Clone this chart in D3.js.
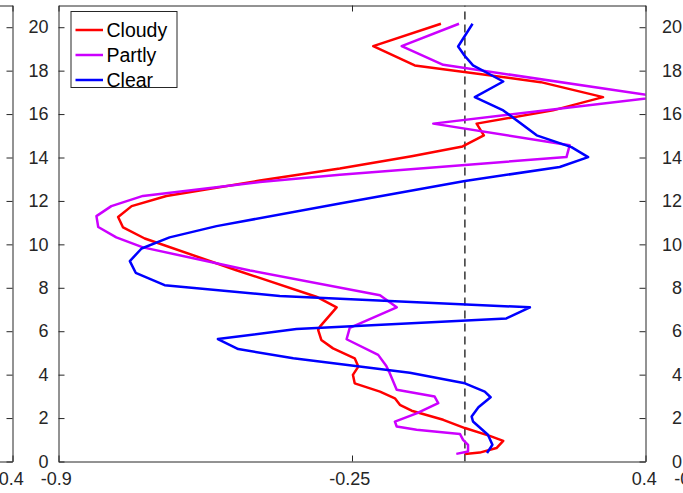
<!DOCTYPE html>
<html><head><meta charset="utf-8">
<script src="https://cdn.jsdelivr.net/npm/d3@7"></script>
<style>html,body{margin:0;padding:0;background:#fff;overflow:hidden}</style>
</head><body><svg id="c" width="683" height="493"></svg>
<script>
// ---- data ----
const xTicks = [-0.9, -0.25, 0.4];
const xTickLabels = ["-0.9", "-0.25", "0.4"];
const yTicks = [0, 2, 4, 6, 8, 10, 12, 14, 16, 18, 20];
const yTickLabels = ["0","2","4","6","8","10","12","14","16","18","20"];
const seriesNames = ["Cloudy", "Partly", "Clear"];
const seriesColors = ["#ff0000", "#cc00ff", "#0000ff"];
const refValue = 0;

const cloudyDepth = [20.16,19.13,18.24,17.47,16.78,16.17,15.56,15.02,14.51,14.06,13.49,12.94,12.23,11.76,11.26,10.78,10.27,8.81,7.59,7.10,6.21,6.06,5.60,5.21,4.75,4.37,3.99,3.60,3.22,2.91,2.61,2.34,1.92,1.54,1.18,0.95,0.62,0.41,0.35];
const cloudyValue = [-0.053,-0.203,-0.111,0.168,0.306,0.195,0.026,0.042,-0.005,-0.118,-0.277,-0.454,-0.661,-0.738,-0.768,-0.757,-0.709,-0.506,-0.329,-0.284,-0.321,-0.325,-0.318,-0.292,-0.244,-0.236,-0.248,-0.244,-0.188,-0.155,-0.144,-0.118,-0.048,0.000,0.055,0.085,0.070,0.033,0.000];

const partlyDepth = [20.16,19.13,18.27,16.79,15.56,14.56,14.02,13.21,12.87,12.23,11.76,11.30,10.80,10.32,9.86,8.80,7.66,7.10,6.15,5.63,4.91,4.40,4.14,3.30,2.99,2.69,2.22,1.84,1.61,1.46,1.27,1.00,0.77,0.46,0.35];
const partlyValue = [-0.013,-0.140,-0.048,0.432,-0.070,0.232,0.225,-0.277,-0.454,-0.713,-0.783,-0.816,-0.812,-0.772,-0.713,-0.476,-0.188,-0.151,-0.255,-0.262,-0.192,-0.174,-0.168,-0.151,-0.067,-0.059,-0.107,-0.155,-0.151,-0.107,-0.011,-0.004,0.007,0.007,-0.019];

const clearDepth = [20.16,19.11,18.70,18.24,17.50,16.78,16.17,15.02,14.48,14.02,13.56,12.92,11.88,10.84,10.32,9.81,9.23,8.69,8.12,7.62,7.10,6.59,6.10,5.64,5.18,4.75,4.09,3.60,3.22,2.96,2.50,2.07,1.84,1.23,0.77,0.39];
const clearValue = [0.017,-0.015,-0.001,0.018,0.085,0.022,0.085,0.159,0.236,0.273,0.210,0.000,-0.277,-0.550,-0.654,-0.716,-0.742,-0.729,-0.665,-0.410,0.144,0.092,-0.373,-0.547,-0.502,-0.380,-0.122,0.000,0.044,0.057,0.030,0.015,0.018,0.051,0.061,0.049];

// ---- layout ----
const FONT = '"Liberation Sans", Arial, Helvetica, sans-serif';
const AX = "#262626";
const SW = 683;
const W = 587;
const panelLeft = [12.5 - W, 58.5, 692];   // neighbouring subplots are cropped by the frame
const mainPanel = 1;

const svg = d3.select("#c");
const x = d3.scaleLinear().domain([-0.9, 0.4]).range([0, W]);
const y = d3.scaleLinear().domain([0, 21]).range([461.5, 5.5]);

function styleAxis(g) {
  g.selectAll("path.domain").attr("stroke", AX).attr("stroke-width", 1);
  g.selectAll(".tick line").attr("stroke", AX).attr("stroke-width", 1);
  g.selectAll(".tick text").attr("fill", AX).attr("font-family", FONT).attr("font-size", 18);
}
// drop labels of the neighbouring panels that lie completely outside the frame
function dropHidden(g, x0, posFn) {
  g.selectAll(".tick").each(function (d) {
    const ax = x0 + posFn(d);
    if (ax < -22 || ax > SW + 22) d3.select(this).select("text").remove();
  });
}

panelLeft.forEach((x0, i) => {
  const g = svg.append("g").attr("transform", `translate(${x0},0)`);
  g.append("rect").attr("x", 0).attr("y", y(21)).attr("width", W).attr("height", y(0) - y(21)).attr("fill", "#fff");
  if (i === mainPanel) {
    g.append("clipPath").attr("id", "clip").append("rect")
      .attr("x", 0).attr("y", y(21)).attr("width", W).attr("height", y(0) - y(21));
    const plot = g.append("g").attr("clip-path", "url(#clip)");
    plot.append("line").attr("x1", x(refValue)).attr("x2", x(refValue))
      .attr("y1", y(0)).attr("y2", y(21)).attr("stroke", "#333").attr("stroke-width", 1.5)
      .attr("stroke-dasharray", "8,5");
    const line = d3.line().x(d => x(d[0])).y(d => y(d[1]));
    const series = [
      d3.zip(cloudyValue, cloudyDepth),
      d3.zip(partlyValue, partlyDepth),
      d3.zip(clearValue, clearDepth)
    ];
    series.forEach((s, k) => {
      plot.append("path").attr("d", line(s)).attr("fill", "none")
        .attr("stroke", seriesColors[k]).attr("stroke-width", 2.5)
        .attr("stroke-linejoin", "round").attr("stroke-linecap", "butt");
    });
  }
  const ly = g.append("g").call(d3.axisLeft(y).tickValues(yTicks).tickFormat((d, j) => yTickLabels[j])
      .tickSize(-6).tickSizeOuter(0).tickPadding(10)).call(styleAxis);
  dropHidden(ly, x0, () => -20);
  g.append("g").attr("transform", `translate(${W},0)`)
    .call(d3.axisRight(y).tickValues(yTicks).tickFormat("").tickSize(-6).tickSizeOuter(0)).call(styleAxis);
  const lx = g.append("g").attr("transform", `translate(0,${y(0)})`)
    .call(d3.axisBottom(x).tickValues(xTicks).tickFormat((d, j) => xTickLabels[j])
      .tickSize(-6).tickSizeOuter(0).tickPadding(11)).call(styleAxis);
  lx.selectAll(".tick text").attr("dx", d => d < 0 ? "-0.15em" : "-0.1em");
  dropHidden(lx, x0, d => x(d));
  g.append("g").attr("transform", `translate(0,${y(21)})`)
    .call(d3.axisTop(x).tickValues(xTicks).tickFormat("").tickSize(-6).tickSizeOuter(0)).call(styleAxis);

  if (i === mainPanel) {
    const lg = g.append("g").attr("transform", "translate(12.5,11.5)");
    lg.append("rect").attr("x", 0).attr("y", 0).attr("width", 106).attr("height", 76)
      .attr("fill", "#fff").attr("stroke", AX).attr("stroke-width", 1);
    seriesNames.forEach((name, k) => {
      const yy = 18.5 + k * 25;
      lg.append("line").attr("x1", 4.5).attr("x2", 32).attr("y1", yy).attr("y2", yy)
        .attr("stroke", seriesColors[k]).attr("stroke-width", 2.5);
      lg.append("text").attr("x", 35.5).attr("y", yy + 7).text(name)
        .attr("font-family", FONT).attr("font-size", 19.5).attr("fill", "#000");
    });
  }
});
</script></body></html>
